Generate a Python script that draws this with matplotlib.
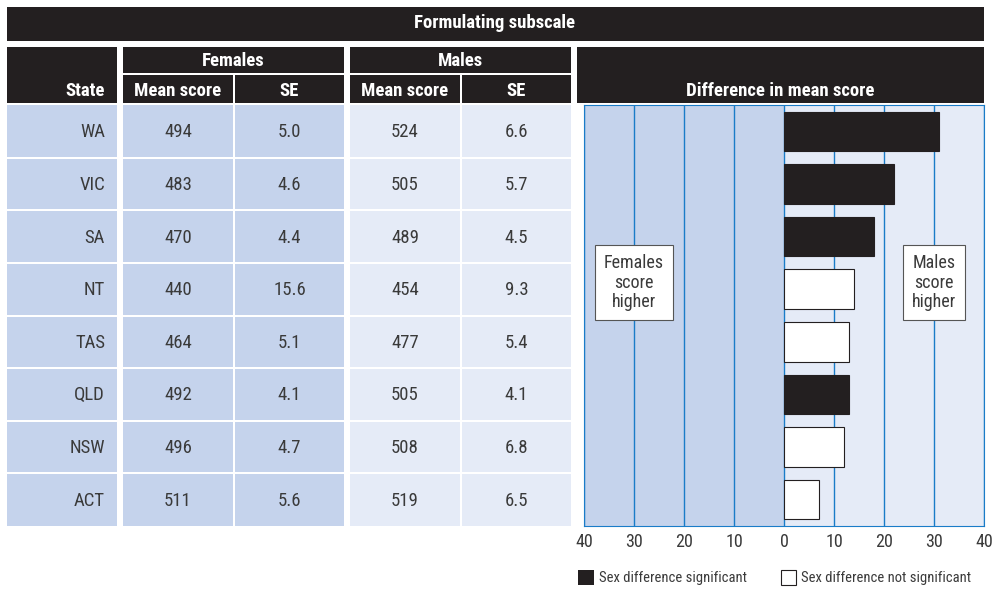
import numpy as np
import matplotlib
matplotlib.use('Agg')
import matplotlib.pyplot as plt
from matplotlib import font_manager
from matplotlib.patches import Rectangle

# pick a narrow font if one is installed
installed = {(f.name, f.stretch) for f in font_manager.fontManager.ttflist}
names = {f.name for f in font_manager.fontManager.ttflist}
narrow = None
for cand in ['Roboto Condensed', 'Liberation Sans Narrow', 'Arial Narrow', 'Open Sans Condensed']:
    if cand in names:
        narrow = cand
        break
if narrow is None and any(n == 'DejaVu Sans' and s == 'condensed' for n, s in installed):
    narrow = 'DejaVu Sans'
    plt.rcParams['font.stretch'] = 'condensed'
if narrow is None:
    narrow = 'Roboto'
plt.rcParams['font.family'] = [narrow, 'DejaVu Sans']

# data
states = ['WA', 'VIC', 'SA', 'NT', 'TAS', 'QLD', 'NSW', 'ACT']
fem_mean = [494, 483, 470, 440, 464, 492, 496, 511]
fem_se = [5.0, 4.6, 4.4, 15.6, 5.1, 4.1, 4.7, 5.6]
male_mean = [524, 505, 489, 454, 477, 505, 508, 519]
male_se = [6.6, 5.7, 4.5, 9.3, 5.4, 4.1, 6.8, 6.5]
diff = [31, 22, 18, 14, 13, 13, 12, 7]
significant = [True, True, True, False, False, True, False, False]
xticks = [-40, -30, -20, -10, 0, 10, 20, 30, 40]

DARK = '#231f20'
BLUE_D = '#c5d3ec'
BLUE_L = '#e5ebf7'
LINE = '#1a7cc8'
TXT = '#3a3a3a'
FS = 13.5

fig = plt.figure(figsize=(9.92, 5.89), dpi=100)
bg = fig.add_axes([0, 0, 1, 1])
bg.set_xlim(0, 992)
bg.set_ylim(589, 0)
bg.axis('off')

def box(x0, y0, x1, y1, c):
    bg.add_patch(Rectangle((x0, y0), x1 - x0, y1 - y0, fc=c, ec='none'))

# header
box(7, 7, 984, 41, DARK)
bg.text(495, 23, 'Formulating subscale', color='white', fontsize=FS,
        fontweight='bold', ha='center', va='center')
box(7, 47, 117, 103, DARK)
bg.text(105, 91, 'State', color='white', fontsize=FS, fontweight='bold',
        ha='right', va='center')
cols = [(123, 233), (235, 344), (350, 460), (462, 571)]
for (g0, g1), name in zip([(123, 344), (350, 571)], ['Females', 'Males']):
    box(g0, 47, g1, 73, DARK)
    bg.text((g0 + g1) / 2, 61, name, color='white', fontsize=FS,
            fontweight='bold', ha='center', va='center')
for (c0, c1), name in zip(cols, ['Mean score', 'SE', 'Mean score', 'SE']):
    box(c0, 75, c1, 103, DARK)
    bg.text((c0 + c1) / 2, 91, name, color='white', fontsize=FS,
            fontweight='bold', ha='center', va='center')
box(577, 47, 984, 103, DARK)
bg.text(780, 91, 'Difference in mean score', color='white', fontsize=FS,
        fontweight='bold', ha='center', va='center')

# table body
top, bot = 105, 526
rh = (bot - top) / len(states)
for i, st in enumerate(states):
    y0 = top + i * rh + 1
    y1 = top + (i + 1) * rh - 1
    if i == 0:
        y0 = top
    if i == len(states) - 1:
        y1 = bot
    yc = top + (i + 0.5) * rh + 1
    box(7, y0, 117, y1, BLUE_D)
    bg.text(105, yc, st, color=TXT, fontsize=FS, ha='right', va='center')
    vals = [str(fem_mean[i]), '%.1f' % fem_se[i], str(male_mean[i]), '%.1f' % male_se[i]]
    for j, ((c0, c1), v) in enumerate(zip(cols, vals)):
        box(c0, y0, c1, y1, BLUE_D if j < 2 else BLUE_L)
        bg.text((c0 + c1) / 2, yc, v, color=TXT, fontsize=FS,
                ha='center', va='center')

# legend
box(578, 570, 594, 585, DARK)
bg.text(599, 578, 'Sex difference significant', color=TXT, fontsize=10.5,
        ha='left', va='center')
bg.add_patch(Rectangle((781, 570), 15, 15, fc='white', ec=DARK, lw=0.8))
bg.text(801, 578, 'Sex difference not significant', color=TXT, fontsize=10.5,
        ha='left', va='center')

# difference chart
ax = fig.add_axes([584 / 992, (589 - bot) / 589, 400 / 992, (bot - top) / 589])
ax.set_xlim(-40, 40)
ax.set_ylim(len(states) - 0.5, -0.5)
ax.axvspan(-40, 0, color=BLUE_D, zorder=0)
ax.axvspan(0, 40, color=BLUE_L, zorder=0)
for t in xticks:
    ax.axvline(t, color=LINE, lw=1, zorder=1)
y = np.arange(len(states))
ax.barh(y, diff, height=0.75, color=[DARK if s else 'white' for s in significant],
        edgecolor=DARK, linewidth=0.8, zorder=3)
for sp in ax.spines.values():
    sp.set_color(LINE)
ax.set_yticks([])
ax.set_xticks(xticks)
ax.set_xticklabels([str(abs(t)) for t in xticks])
ax.tick_params(axis='x', length=0, pad=5, labelsize=13, labelcolor=TXT)

for xp, lab in [(-30, 'Females\nscore\nhigher'), (30, 'Males\nscore\nhigher')]:
    ax.text(xp, 2.88, lab, ha='center', va='center', fontsize=13, color=TXT,
            linespacing=1.1, zorder=4,
            bbox=dict(boxstyle='square,pad=0.5', fc='white', ec='#555555', lw=0.8))

fig.savefig('out.png', dpi=100)
